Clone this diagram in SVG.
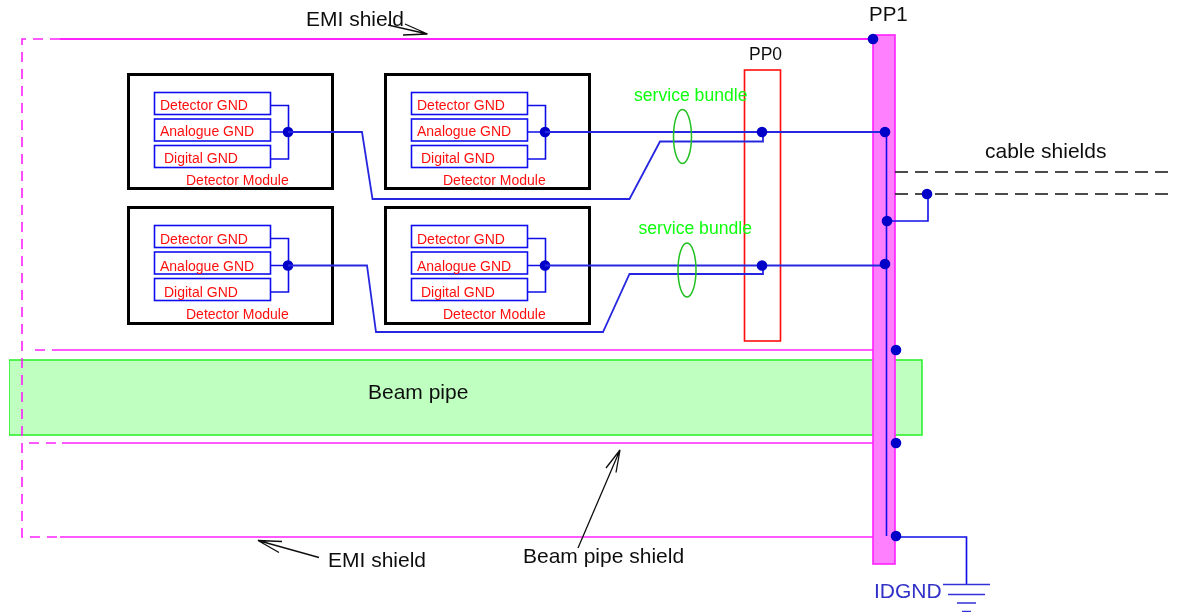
<svg xmlns="http://www.w3.org/2000/svg" width="1180" height="613" viewBox="0 0 1180 613">
<defs><filter id="soft" x="0" y="0" width="100%" height="100%"><feGaussianBlur stdDeviation="0.4"/></filter></defs>
<style>
text{font-family:"Liberation Sans",Arial,sans-serif}
.mod{fill:#fff;stroke:#000;stroke-width:3}
.gb{fill:#fff;stroke:#1010f0;stroke-width:1.6}
.r{fill:#ff1010;font-size:14px}
.k{fill:#111;font-size:21px}
.g{fill:#10ff10;font-size:17.600px}
.w{fill:none;stroke:#1010e8;stroke-width:1.6}
.w2{fill:none;stroke:#2828e0;stroke-width:1.800}
.m{fill:none;stroke:#ff20ff;stroke-width:1.600}
.d{stroke-dasharray:10 7}
.dot{fill:#0000c8}
.a{fill:none;stroke:#111;stroke-width:1.300}
</style>
<g filter="url(#soft)">
<g id="beam-pipe">
<rect x="9" y="360" width="913" height="75" fill="#bfffbf" stroke="#30f030" stroke-width="1.600"/>
<text class="k" x="368" y="399">Beam pipe</text>
</g>
<g id="emi-shield">
<path class="m" style="stroke-width:2.200" d="M60 39H873"/>
<path class="m d" d="M60 39H22V537H60"/>
<path class="m" d="M60 537H896"/>
</g>
<g id="beam-pipe-shield">
<path class="m d" d="M35 350H62M29 443H62"/>
<path class="m" d="M62 350H896M62 443H896"/>
</g>
<g id="pp0">
<rect x="744.500" y="70" width="36" height="271" fill="none" stroke="#ff1010" stroke-width="1.600"/>
<text class="k" style="font-size:17.500px" x="749" y="60">PP0</text>
</g>
<g id="pp1">
<rect x="873" y="35" width="22" height="529" fill="#ff80ff" stroke="#ff20ff" stroke-width="1.600"/>
<text class="k" style="font-size:20.500px" x="869" y="21">PP1</text>
</g>
<g id="module-1">
<rect class="mod" x="128.500" y="74.500" width="204" height="114"/>
<rect class="gb" x="154.500" y="92.500" width="116" height="22"/><text class="r" x="160" y="110">Detector GND</text>
<rect class="gb" x="154.500" y="119" width="116" height="22"/><text class="r" x="160" y="136">Analogue GND</text>
<rect class="gb" x="154.500" y="145.500" width="116" height="22"/><text class="r" x="164" y="163">Digital GND</text>
<text class="r" x="186" y="185">Detector Module</text>
<path class="w" d="M271 105.500H288.500V159H271M271 132H288"/>
<circle class="dot" cx="288" cy="132" r="5.300"/>
</g>
<g id="module-2">
<rect class="mod" x="385.500" y="74.500" width="204" height="114"/>
<rect class="gb" x="411.500" y="92.500" width="116" height="22"/><text class="r" x="417" y="110">Detector GND</text>
<rect class="gb" x="411.500" y="119" width="116" height="22"/><text class="r" x="417" y="136">Analogue GND</text>
<rect class="gb" x="411.500" y="145.500" width="116" height="22"/><text class="r" x="421" y="163">Digital GND</text>
<text class="r" x="443" y="185">Detector Module</text>
<path class="w" d="M528 105.500H545.500V159H528M528 132H545"/>
<circle class="dot" cx="545" cy="132" r="5.300"/>
</g>
<g id="module-3">
<rect class="mod" x="128.500" y="207.500" width="204" height="116"/>
<rect class="gb" x="154.500" y="225.500" width="116" height="22"/><text class="r" x="160" y="244">Detector GND</text>
<rect class="gb" x="154.500" y="252" width="116" height="22"/><text class="r" x="160" y="270.500">Analogue GND</text>
<rect class="gb" x="154.500" y="278.500" width="116" height="22"/><text class="r" x="164" y="297">Digital GND</text>
<text class="r" x="186" y="318.500">Detector Module</text>
<path class="w" d="M271 238.500H288.500V292H271M271 265.500H288"/>
<circle class="dot" cx="288" cy="265.500" r="5.300"/>
</g>
<g id="module-4">
<rect class="mod" x="385.500" y="207.500" width="204" height="116"/>
<rect class="gb" x="411.500" y="225.500" width="116" height="22"/><text class="r" x="417" y="244">Detector GND</text>
<rect class="gb" x="411.500" y="252" width="116" height="22"/><text class="r" x="417" y="270.500">Analogue GND</text>
<rect class="gb" x="411.500" y="278.500" width="116" height="22"/><text class="r" x="421" y="297">Digital GND</text>
<text class="r" x="443" y="318.500">Detector Module</text>
<path class="w" d="M528 238.500H545.500V292H528M528 265.500H545"/>
<circle class="dot" cx="545" cy="265.500" r="5.300"/>
</g>
<g id="connectors">
<path class="w2" d="M288 132H362L372.500 199H629.500L660 141.500H763V132"/>
<path class="w2" d="M288 265.500H367L376 332H603L629.500 274H763V265.500"/>
<path class="w2" d="M545 132H885"/>
<path class="w2" d="M545 265.500H885"/>
<path class="w" d="M886.500 132V536"/>
<path class="w" d="M886 221H928V194"/>
<path class="w" d="M896 537H966.500V584"/>
<path fill="none" stroke="#111" stroke-width="1.500" stroke-dasharray="13 7" d="M895 172H1172M895 194H1172"/>
<path class="a" d="M388 25L427.500 34M405 24L427.500 34L403 35"/>
<path class="a" d="M319 557.500L258 540.500M282 541.500L258 540.500L279 552.500"/>
<path class="a" d="M578 548L620 450M606 468L620 450L616 472.500"/>
</g>
<g id="junctions">
<circle class="dot" cx="873" cy="39" r="5.300"/>
<circle class="dot" cx="762" cy="132" r="5.300"/>
<circle class="dot" cx="762" cy="265.500" r="5.300"/>
<circle class="dot" cx="885" cy="132" r="5.300"/>
<circle class="dot" cx="885" cy="264" r="5.300"/>
<circle class="dot" cx="887" cy="221" r="5.300"/>
<circle class="dot" cx="927" cy="194" r="5.300"/>
<circle class="dot" cx="896" cy="350" r="5.300"/>
<circle class="dot" cx="896" cy="443" r="5.300"/>
<circle class="dot" cx="896" cy="536" r="5.300"/>
</g>
<g id="bundle-1">
<ellipse cx="682.500" cy="136.500" rx="9" ry="27" fill="none" stroke="#20c020" stroke-width="1.500"/>
<text class="g" x="634" y="100.500">service bundle</text>
</g>
<g id="bundle-2">
<ellipse cx="687" cy="270" rx="9" ry="27" fill="none" stroke="#20c020" stroke-width="1.500"/>
<text class="g" x="638.500" y="233.500">service bundle</text>
</g>
<g id="idgnd">
<path fill="none" stroke="#3030d8" stroke-width="1.500" d="M943 584.500H990M948 594.500H985M957 603H976M962 611.500H971"/>
<text x="874" y="598" font-size="21" fill="#3030c8">IDGND</text>
</g>
<g id="labels">
<text class="k" x="306" y="26">EMI shield</text>
<text class="k" x="328" y="567">EMI shield</text>
<text class="k" x="523" y="562.500">Beam pipe shield</text>
<text class="k" x="985" y="158">cable shields</text>
</g>
</g>
</svg>
